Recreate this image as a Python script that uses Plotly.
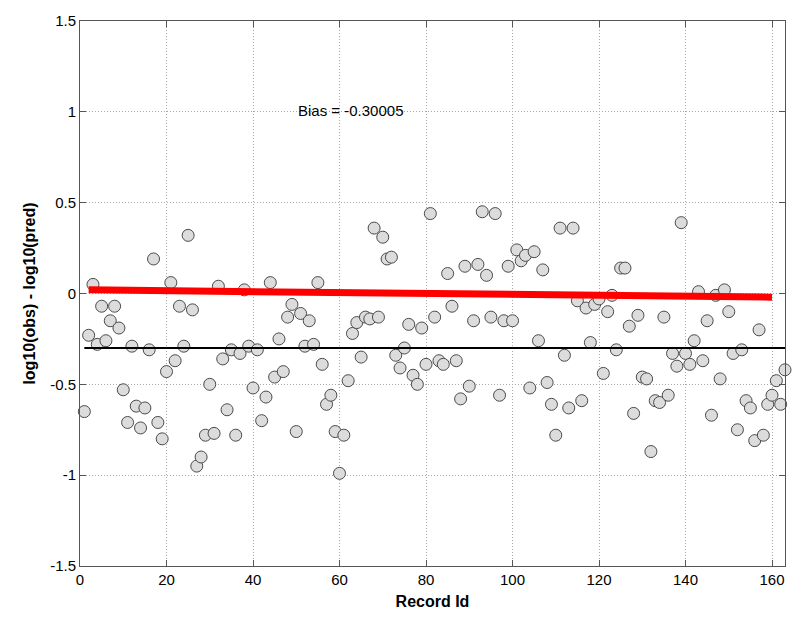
import plotly.graph_objects as go

# Residuals per record: log10(obs) - log10(pred)
record_id = list(range(1, 164))
residual = [
    -0.65, -0.23, 0.05, -0.28, -0.07, -0.26, -0.15, -0.07, -0.19, -0.53,
    -0.71, -0.29, -0.62, -0.74, -0.63, -0.31, 0.19, -0.71, -0.80, -0.43,
    0.06, -0.37, -0.07, -0.29, 0.32, -0.09, -0.95, -0.90, -0.78, -0.50,
    -0.77, 0.04, -0.36, -0.64, -0.31, -0.78, -0.33, 0.02, -0.29, -0.52,
    -0.31, -0.70, -0.57, 0.06, -0.46, -0.25, -0.43, -0.13, -0.06, -0.76,
    -0.11, -0.29, -0.15, -0.28, 0.06, -0.39, -0.61, -0.56, -0.76, -0.99,
    -0.78, -0.48, -0.22, -0.16, -0.35, -0.13, -0.14, 0.36, -0.13, 0.31,
    0.19, 0.20, -0.34, -0.41, -0.30, -0.17, -0.45, -0.50, -0.19, -0.39,
    0.44, -0.13, -0.37, -0.39, 0.11, -0.07, -0.37, -0.58, 0.15, -0.51,
    -0.15, 0.16, 0.45, 0.10, -0.13, 0.44, -0.56, -0.15, 0.15, -0.15,
    0.24, 0.18, 0.21, -0.52, 0.23, -0.26, 0.13, -0.49, -0.61, -0.78,
    0.36, -0.34, -0.63, 0.36, -0.04, -0.59, -0.08, -0.27, -0.06, -0.03,
    -0.44, -0.10, -0.01, -0.31, 0.14, 0.14, -0.18, -0.66, -0.12, -0.46,
    -0.47, -0.87, -0.59, -0.60, -0.13, -0.56, -0.33, -0.40, 0.39, -0.33,
    -0.39, -0.26, 0.01, -0.37, -0.15, -0.67, -0.01, -0.47, 0.02, -0.10,
    -0.33, -0.75, -0.31, -0.59, -0.63, -0.81, -0.20, -0.78, -0.61, -0.56,
    -0.48, -0.61, -0.42,
]

bias = -0.30005
bias_x = [1, 163]
trend_x = [2, 160]
trend_y = [0.02, -0.02]

x_ticks = [0, 20, 40, 60, 80, 100, 120, 140, 160]
y_ticks = [-1.5, -1, -0.5, 0, 0.5, 1, 1.5]
y_tick_text = ["-1.5", "-1", "-0.5", "0", "0.5", "1", "1.5"]

FONT = "Liberation Sans, Arial, sans-serif"

fig = go.Figure()

fig.add_trace(go.Scatter(
    x=record_id, y=residual, mode="markers",
    marker=dict(size=12, color="#dcdcdc", line=dict(color="#4a4a4a", width=1)),
    showlegend=False, cliponaxis=False,
))

fig.add_trace(go.Scatter(
    x=bias_x, y=[bias, bias], mode="lines",
    line=dict(color="black", width=2.2), showlegend=False,
))

fig.add_trace(go.Scatter(
    x=trend_x, y=trend_y, mode="lines",
    line=dict(color="#ff0000", width=7), showlegend=False,
))

fig.add_annotation(
    x=50, y=1.01, xref="x", yref="y", xanchor="left", yanchor="middle",
    text=f"Bias = {bias:.5f}", showarrow=False,
    font=dict(family=FONT, size=15, color="black"),
)

axis_common = dict(
    showline=True, mirror="ticks", linecolor="#555555", linewidth=1,
    ticks="inside", ticklen=6, tickcolor="#555555",
    showgrid=True, gridcolor="#a8a8a8", gridwidth=1, griddash="1px,2px",
    zeroline=False,
    tickfont=dict(family=FONT, size=15, color="black"),
)

fig.update_xaxes(
    range=[0, 163], tickvals=x_ticks, **axis_common,
    title=dict(text="<b>Record Id</b>", standoff=8,
               font=dict(family=FONT, size=16, color="black")),
)
fig.update_yaxes(
    range=[-1.5, 1.5], tickvals=y_ticks, ticktext=y_tick_text, **axis_common,
    title=dict(text="<b>log10(obs) - log10(pred)</b>", standoff=10,
               font=dict(family=FONT, size=16, color="black")),
)

fig.update_layout(
    width=798, height=619,
    margin=dict(l=80, r=13, t=17, b=50),
    paper_bgcolor="white", plot_bgcolor="white",
)

fig.write_html("out.html")
